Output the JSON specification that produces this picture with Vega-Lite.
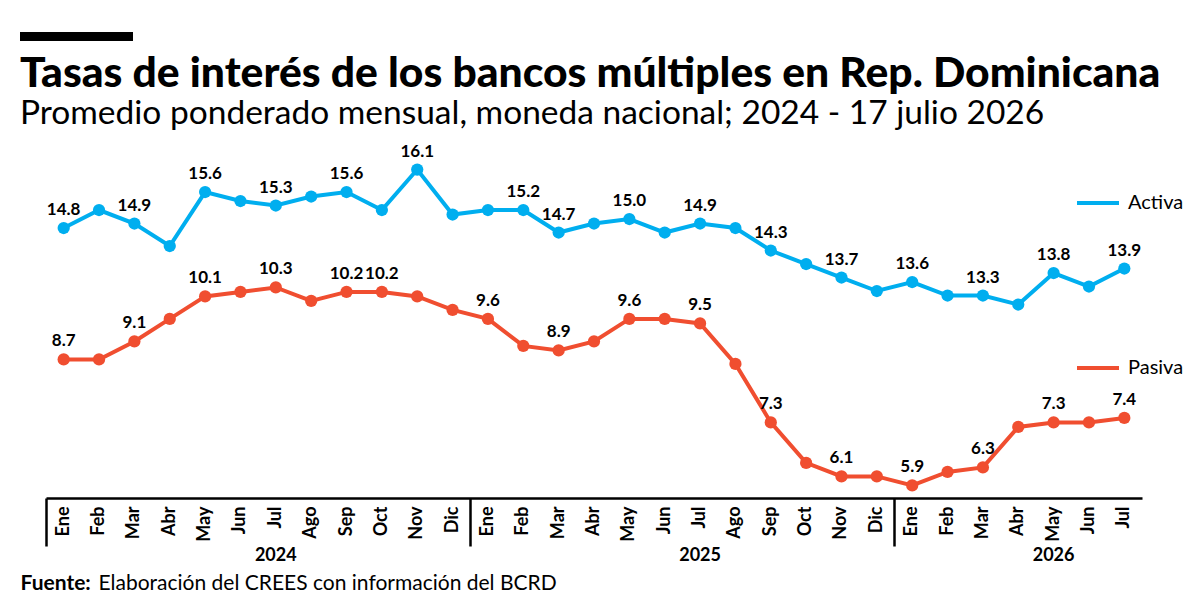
{
  "$schema": "https://vega.github.io/schema/vega-lite/v6.json",
  "background": "white",
  "padding": {"left": 20, "top": 32, "right": 0, "bottom": 0},
  "config": {
    "view": {"stroke": null},
    "font": "Lato",
    "concat": {"spacing": 12}
  },
  "datasets": {
    "tasas": [
      {"mes": "2024-01", "serie": "Activa", "valor": 14.8, "rotulo": true},
      {"mes": "2024-02", "serie": "Activa", "valor": 15.2, "rotulo": false},
      {"mes": "2024-03", "serie": "Activa", "valor": 14.9, "rotulo": true},
      {"mes": "2024-04", "serie": "Activa", "valor": 14.4, "rotulo": false},
      {"mes": "2024-05", "serie": "Activa", "valor": 15.6, "rotulo": true},
      {"mes": "2024-06", "serie": "Activa", "valor": 15.4, "rotulo": false},
      {"mes": "2024-07", "serie": "Activa", "valor": 15.3, "rotulo": true},
      {"mes": "2024-08", "serie": "Activa", "valor": 15.5, "rotulo": false},
      {"mes": "2024-09", "serie": "Activa", "valor": 15.6, "rotulo": true},
      {"mes": "2024-10", "serie": "Activa", "valor": 15.2, "rotulo": false},
      {"mes": "2024-11", "serie": "Activa", "valor": 16.1, "rotulo": true},
      {"mes": "2024-12", "serie": "Activa", "valor": 15.1, "rotulo": false},
      {"mes": "2025-01", "serie": "Activa", "valor": 15.2, "rotulo": false},
      {"mes": "2025-02", "serie": "Activa", "valor": 15.2, "rotulo": true},
      {"mes": "2025-03", "serie": "Activa", "valor": 14.7, "rotulo": true},
      {"mes": "2025-04", "serie": "Activa", "valor": 14.9, "rotulo": false},
      {"mes": "2025-05", "serie": "Activa", "valor": 15.0, "rotulo": true},
      {"mes": "2025-06", "serie": "Activa", "valor": 14.7, "rotulo": false},
      {"mes": "2025-07", "serie": "Activa", "valor": 14.9, "rotulo": true},
      {"mes": "2025-08", "serie": "Activa", "valor": 14.8, "rotulo": false},
      {"mes": "2025-09", "serie": "Activa", "valor": 14.3, "rotulo": true},
      {"mes": "2025-10", "serie": "Activa", "valor": 14.0, "rotulo": false},
      {"mes": "2025-11", "serie": "Activa", "valor": 13.7, "rotulo": true},
      {"mes": "2025-12", "serie": "Activa", "valor": 13.4, "rotulo": false},
      {"mes": "2026-01", "serie": "Activa", "valor": 13.6, "rotulo": true},
      {"mes": "2026-02", "serie": "Activa", "valor": 13.3, "rotulo": false},
      {"mes": "2026-03", "serie": "Activa", "valor": 13.3, "rotulo": true},
      {"mes": "2026-04", "serie": "Activa", "valor": 13.1, "rotulo": false},
      {"mes": "2026-05", "serie": "Activa", "valor": 13.8, "rotulo": true},
      {"mes": "2026-06", "serie": "Activa", "valor": 13.5, "rotulo": false},
      {"mes": "2026-07", "serie": "Activa", "valor": 13.9, "rotulo": true},
      {"mes": "2024-01", "serie": "Pasiva", "valor": 8.7, "rotulo": true},
      {"mes": "2024-02", "serie": "Pasiva", "valor": 8.7, "rotulo": false},
      {"mes": "2024-03", "serie": "Pasiva", "valor": 9.1, "rotulo": true},
      {"mes": "2024-04", "serie": "Pasiva", "valor": 9.6, "rotulo": false},
      {"mes": "2024-05", "serie": "Pasiva", "valor": 10.1, "rotulo": true},
      {"mes": "2024-06", "serie": "Pasiva", "valor": 10.2, "rotulo": false},
      {"mes": "2024-07", "serie": "Pasiva", "valor": 10.3, "rotulo": true},
      {"mes": "2024-08", "serie": "Pasiva", "valor": 10.0, "rotulo": false},
      {"mes": "2024-09", "serie": "Pasiva", "valor": 10.2, "rotulo": true},
      {"mes": "2024-10", "serie": "Pasiva", "valor": 10.2, "rotulo": true},
      {"mes": "2024-11", "serie": "Pasiva", "valor": 10.1, "rotulo": false},
      {"mes": "2024-12", "serie": "Pasiva", "valor": 9.8, "rotulo": false},
      {"mes": "2025-01", "serie": "Pasiva", "valor": 9.6, "rotulo": true},
      {"mes": "2025-02", "serie": "Pasiva", "valor": 9.0, "rotulo": false},
      {"mes": "2025-03", "serie": "Pasiva", "valor": 8.9, "rotulo": true},
      {"mes": "2025-04", "serie": "Pasiva", "valor": 9.1, "rotulo": false},
      {"mes": "2025-05", "serie": "Pasiva", "valor": 9.6, "rotulo": true},
      {"mes": "2025-06", "serie": "Pasiva", "valor": 9.6, "rotulo": false},
      {"mes": "2025-07", "serie": "Pasiva", "valor": 9.5, "rotulo": true},
      {"mes": "2025-08", "serie": "Pasiva", "valor": 8.6, "rotulo": false},
      {"mes": "2025-09", "serie": "Pasiva", "valor": 7.3, "rotulo": true},
      {"mes": "2025-10", "serie": "Pasiva", "valor": 6.4, "rotulo": false},
      {"mes": "2025-11", "serie": "Pasiva", "valor": 6.1, "rotulo": true},
      {"mes": "2025-12", "serie": "Pasiva", "valor": 6.1, "rotulo": false},
      {"mes": "2026-01", "serie": "Pasiva", "valor": 5.9, "rotulo": true},
      {"mes": "2026-02", "serie": "Pasiva", "valor": 6.2, "rotulo": false},
      {"mes": "2026-03", "serie": "Pasiva", "valor": 6.3, "rotulo": true},
      {"mes": "2026-04", "serie": "Pasiva", "valor": 7.2, "rotulo": false},
      {"mes": "2026-05", "serie": "Pasiva", "valor": 7.3, "rotulo": true},
      {"mes": "2026-06", "serie": "Pasiva", "valor": 7.3, "rotulo": false},
      {"mes": "2026-07", "serie": "Pasiva", "valor": 7.4, "rotulo": true}
    ]
  },
  "vconcat": [
    {
      "width": 113,
      "height": 9,
      "data": {"values": [{}]},
      "mark": {"type": "rect", "color": "black", "xOffset": -26, "x2Offset": -26},
      "encoding": {
        "x": {"datum": 0, "type": "quantitative", "scale": {"domain": [0, 1], "nice": false}, "axis": null},
        "x2": {"datum": 1}
      }
    },
    {
      "width": 1096,
      "height": 355,
      "title": {
        "text": "Tasas de interés de los bancos múltiples en Rep. Dominicana",
        "subtitle": "Promedio ponderado mensual, moneda nacional; 2024 - 17 julio 2026",
        "anchor": "start",
        "frame": "group",
        "dx": -26,
        "font": "Lato",
        "fontSize": 42.6,
        "fontWeight": 900,
        "color": "black",
        "subtitleFont": "Lato",
        "subtitleFontSize": 33.5,
        "subtitleColor": "black",
        "subtitlePadding": 2,
        "offset": 12
      },
      "data": {"name": "tasas"},
      "layer": [
        {
          "transform": [{"filter": "datum.serie === 'Activa'"}],
          "encoding": {
            "y": {
              "field": "valor",
              "type": "quantitative",
              "scale": {"domain": [8.8, 16.69], "nice": false, "zero": false},
              "axis": null
            }
          },
          "layer": [
            {
              "mark": {"type": "line", "strokeWidth": 4},
              "encoding": {
                "x": {
                  "field": "mes",
                  "type": "ordinal",
                  "scale": {"type": "band", "paddingInner": 0, "paddingOuter": 0},
                  "axis": {
                    "orient": "bottom",
                    "title": null,
                    "ticks": false,
                    "grid": false,
                    "domain": true,
                    "domainColor": "black",
                    "domainWidth": 2.5,
                    "labelAngle": 270,
                    "labelAlign": "right",
                    "labelBaseline": "middle",
                    "labelPadding": 8,
                    "labelFont": "Lato",
                    "labelFontSize": 18,
                    "labelFontWeight": "bold",
                    "labelColor": "black",
                    "labelOverlap": false,
                    "labelExpr": "['Ene','Feb','Mar','Abr','May','Jun','Jul','Ago','Sep','Oct','Nov','Dic'][toNumber(substring(datum.value, 5, 7)) - 1]"
                  }
                },
                "color": {
                  "field": "serie",
                  "type": "nominal",
                  "scale": {"range": ["#00AEEF"]},
                  "legend": {
                    "orient": "none",
                    "legendX": 1029,
                    "legendY": 37,
                    "title": null,
                    "symbolType": "stroke",
                    "symbolStrokeWidth": 4,
                    "symbolSize": 1764,
                    "labelFont": "Lato",
                    "labelFontSize": 20,
                    "labelColor": "black",
                    "labelOffset": 7
                  }
                }
              }
            },
            {
              "mark": {"type": "point", "filled": true, "size": 150, "opacity": 1, "color": "#00AEEF"},
              "encoding": {
                "x": {
                  "field": "mes",
                  "type": "ordinal",
                  "scale": {"type": "band", "paddingInner": 0, "paddingOuter": 0},
                  "axis": {
                    "orient": "bottom",
                    "values": ["2024-07", "2025-07", "2026-05"],
                    "bandPosition": 0,
                    "ticks": false,
                    "domain": false,
                    "grid": false,
                    "labelAngle": 0,
                    "labelAlign": "center",
                    "labelBaseline": "top",
                    "labelPadding": 48,
                    "labelFont": "Lato",
                    "labelFontSize": 18,
                    "labelFontWeight": "bold",
                    "labelColor": "black",
                    "labelExpr": "substring(datum.value, 0, 4)",
                    "title": "Fuente:",
                    "titleFont": "Lato",
                    "titleFontSize": 21,
                    "titleFontWeight": "bold",
                    "titleColor": "black",
                    "titleAnchor": "start",
                    "titleAlign": "left",
                    "titleBaseline": "alphabetic",
                    "titleX": -26,
                    "titleY": 91
                  }
                }
              }
            },
            {
              "transform": [{"filter": "datum.rotulo"}],
              "mark": {"type": "text", "font": "Lato", "fontSize": 17, "fontWeight": "bold", "color": "black", "baseline": "alphabetic", "dy": -13},
              "encoding": {
                "x": {
                  "field": "mes",
                  "type": "ordinal",
                  "scale": {"type": "band", "paddingInner": 0, "paddingOuter": 0},
                  "axis": null
                },
                "text": {"field": "valor", "type": "quantitative", "format": ".1f"}
              }
            }
          ],
          "resolve": {"axis": {"x": "independent"}}
        },
        {
          "transform": [{"filter": "datum.serie === 'Pasiva'"}],
          "encoding": {
            "y": {
              "field": "valor",
              "type": "quantitative",
              "scale": {"domain": [5.62, 13.51], "nice": false, "zero": false},
              "axis": null
            }
          },
          "layer": [
            {
              "mark": {"type": "line", "strokeWidth": 4},
              "encoding": {
                "x": {
                  "field": "mes",
                  "type": "ordinal",
                  "scale": {"type": "band", "paddingInner": 0, "paddingOuter": 0},
                  "axis": {
                    "orient": "bottom",
                    "values": ["2024-01", "2025-01", "2026-01"],
                    "bandPosition": 0,
                    "tickExtra": false,
                    "ticks": true,
                    "tickSize": 48,
                    "tickWidth": 2.5,
                    "tickColor": "black",
                    "labels": false,
                    "domain": false,
                    "grid": false,
                    "title": "Elaboración del CREES con información del BCRD",
                    "titleFont": "Lato",
                    "titleFontSize": 21,
                    "titleFontWeight": "normal",
                    "titleColor": "black",
                    "titleAnchor": "start",
                    "titleAlign": "left",
                    "titleBaseline": "alphabetic",
                    "titleX": 52,
                    "titleY": 91
                  }
                },
                "color": {
                  "field": "serie",
                  "type": "nominal",
                  "scale": {"range": ["#F04E30"]},
                  "legend": {
                    "orient": "none",
                    "legendX": 1029,
                    "legendY": 202,
                    "title": null,
                    "symbolType": "stroke",
                    "symbolStrokeWidth": 4,
                    "symbolSize": 1764,
                    "labelFont": "Lato",
                    "labelFontSize": 20,
                    "labelColor": "black",
                    "labelOffset": 7
                  }
                }
              }
            },
            {
              "mark": {"type": "point", "filled": true, "size": 150, "opacity": 1, "color": "#F04E30"},
              "encoding": {
                "x": {
                  "field": "mes",
                  "type": "ordinal",
                  "scale": {"type": "band", "paddingInner": 0, "paddingOuter": 0},
                  "axis": null
                }
              }
            },
            {
              "transform": [{"filter": "datum.rotulo"}],
              "mark": {"type": "text", "font": "Lato", "fontSize": 17, "fontWeight": "bold", "color": "black", "baseline": "alphabetic", "dy": -13},
              "encoding": {
                "x": {
                  "field": "mes",
                  "type": "ordinal",
                  "scale": {"type": "band", "paddingInner": 0, "paddingOuter": 0},
                  "axis": null
                },
                "text": {"field": "valor", "type": "quantitative", "format": ".1f"}
              }
            }
          ],
          "resolve": {"axis": {"x": "independent"}}
        }
      ],
      "resolve": {
        "scale": {"y": "independent", "color": "independent"},
        "axis": {"x": "independent"}
      }
    }
  ]
}
